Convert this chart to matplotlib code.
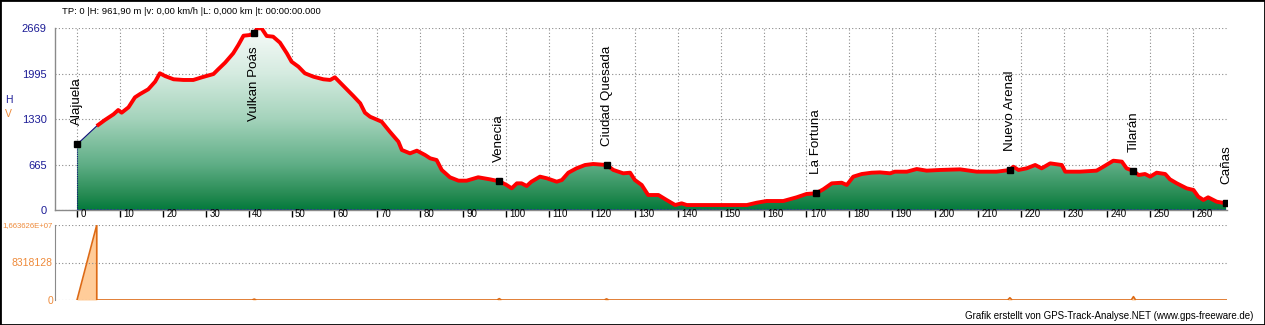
import numpy as np
import matplotlib
matplotlib.use("Agg")
import matplotlib.pyplot as plt
import matplotlib.transforms as mtransforms
from matplotlib.colors import LinearSegmentedColormap
from matplotlib.patches import Polygon, Rectangle

plt.rcParams['font.family'] = ['Liberation Sans', 'DejaVu Sans']

# elevation profile (km, m)
dist_km = [0, 4.6, 6.5, 8.5, 9.6, 10.4, 12.0, 13.5, 14.7, 16.6,
           18.2, 19.3, 20.5, 22.5, 24.8, 27.1, 29.1, 31.8, 32.9, 34.5,
           36.4, 37.6, 38.8, 40.3, 41.3, 42.0, 43.0, 44.2, 45.7, 47.3,
           48.9, 50.0, 51.6, 53.1, 55.1, 57.4, 59.0, 60.1, 62.1, 64.4,
           66.0, 67.1, 68.3, 71.0, 72.9, 74.9, 75.7, 77.6, 79.2, 81.1,
           82.3, 83.8, 85.0, 86.9, 88.9, 90.8, 93.5, 96.2, 98.4, 100.1,
           101.3, 102.5, 103.6, 104.8, 105.9, 107.9, 109.5, 111.8, 113.0, 114.5,
           116.4, 118.4, 120.3, 123.4, 125.0, 127.3, 128.9, 130.0, 131.6, 133.1,
           135.5, 137.4, 139.4, 140.9, 142.1, 149.1, 156.1, 158.4, 160.7, 164.6,
           167.7, 170.0, 172.2, 173.9, 175.9, 178.2, 179.4, 180.9, 182.9, 185.2,
           187.1, 189.5, 190.6, 193.4, 195.7, 198.0, 201.1, 205.8, 209.7, 214.3,
           217.4, 218.2, 219.4, 221.3, 223.3, 224.8, 226.8, 229.5, 230.3, 233.7,
           237.6, 239.2, 241.5, 243.5, 244.6, 246.2, 247.4, 248.9, 250.1, 251.6,
           253.6, 254.7, 256.3, 258.6, 260.2, 261.3, 262.5, 263.6, 265.6, 267.8]
elev_m = [962, 1232, 1320, 1403, 1466, 1427, 1506, 1652, 1701, 1770,
          1882, 2005, 1965, 1917, 1907, 1907, 1946, 1994, 2063, 2160,
          2298, 2420, 2556, 2566, 2591, 2665, 2665, 2552, 2542, 2454,
          2298, 2175, 2102, 2005, 1955, 1917, 1907, 1946, 1818, 1672,
          1565, 1427, 1368, 1295, 1148, 1002, 880, 831, 870, 807,
          758, 733, 587, 480, 430, 430, 480, 450, 421, 367,
          318, 391, 391, 352, 415, 489, 465, 415, 440, 547,
          611, 660, 675, 660, 587, 538, 547, 440, 367, 220,
          220, 147, 73, 98, 73, 73, 73, 107, 132, 132,
          186, 235, 245, 303, 391, 400, 367, 489, 528, 547,
          552, 538, 562, 562, 601, 577, 587, 596, 562, 562,
          587, 635, 587, 611, 660, 611, 684, 660, 562, 562,
          577, 635, 723, 709, 611, 572, 513, 528, 489, 547,
          528, 450, 391, 318, 293, 196, 147, 186, 122, 98]

# waypoints
wp_names = ["Alajuela", "Vulkan Poás", "Venecia", "Ciudad Quesada",
            "La Fortuna", "Nuevo Arenal", "Tilarán", "Cañas"]
wp_km = [0, 41.3, 98.4, 123.4, 172.2, 217.4, 246.2, 267.8]
wp_elev = [962, 2591, 421, 660, 245, 587, 572, 98]

# second series (V)
v_km = [0, 4.6, 4.6, 40.8, 41.3, 41.8, 97.9, 98.4, 98.9, 122.9, 123.4, 123.9,
        216.9, 217.4, 217.9, 245.7, 246.2, 246.7, 267.8]
v_val = [0, 16636256, 0, 0, 200000, 0, 0, 300000, 0, 0, 250000, 0,
         0, 500000, 0, 0, 750000, 0, 0]

h_ticks = [0, 665, 1330, 1995, 2669]
h_ticklabels = ["0", "665", "1330", "1995", "2669"]
v_ticks = [0, 8318128, 16636256]
v_ticklabels = ["0", "8318128", "1,663626E+07"]
km_ticks = list(range(0, 261, 10))

W, H = 1265, 325
fig = plt.figure(figsize=(W / 100, H / 100), dpi=100)
fig.patch.set_facecolor('white')

blue_txt = '#1c1c96'
orange_txt = '#ee8a3a'
grid_kw = dict(color='#8a8a8a', linestyle=(0, (1, 2)), linewidth=0.8)

# ---- upper: elevation ----
ax1 = fig.add_axes([55 / W, 1 - 210 / H, (1227 - 55) / W, (210 - 28) / H])
ax1.set_axisbelow(True)

cmap = LinearSegmentedColormap.from_list('elev', [
    (0.0, '#037a3c'), (0.08, '#258a52'), (0.25, '#5fae86'),
    (0.5, '#a4d3bb'), (0.75, '#d5ebe0'), (1.0, '#f7fbf9')])
grad = np.linspace(0, 1, 256).reshape(-1, 1)
im = ax1.imshow(grad, extent=[dist_km[0], dist_km[-1], 0, h_ticks[-1]],
                origin='lower', aspect='auto', cmap=cmap, zorder=1)
verts = [(dist_km[0], 0)] + list(zip(dist_km, elev_m)) + [(dist_km[-1], 0)]
clip = Polygon(verts, closed=True, facecolor='none', edgecolor='none')
ax1.add_patch(clip)
im.set_clip_path(clip)

# outline of the profile
ax1.plot([dist_km[0], dist_km[0]], [0, elev_m[0]], color='#10107a', lw=0.8,
         linestyle=(0, (1, 1)), zorder=2)
ax1.plot([dist_km[0], dist_km[-1]], [0, 0], color='#1a1aa0', lw=1.2,
         linestyle=(0, (1, 1)), zorder=2)
ax1.plot(dist_km, elev_m, color='#10107a', lw=0.8, zorder=2)
ax1.plot(dist_km[1:], elev_m[1:], color='#ff0000', lw=2.8, zorder=3,
         solid_capstyle='butt')
ax1.plot(wp_km, wp_elev, linestyle='none', marker='s', markersize=4.5,
         color='black', zorder=4)

for name, x, y in zip(wp_names, wp_km, wp_elev):
    if y > 2000:
        ax1.annotate(name, xy=(x, h_ticks[-1]), xytext=(0, -13),
                     textcoords='offset points', rotation=90, ha='center',
                     va='top', fontsize=9.6, zorder=5)
    else:
        ax1.annotate(name, xy=(x, y), xytext=(0, 14),
                     textcoords='offset points', rotation=90, ha='center',
                     va='bottom', fontsize=9.6, zorder=5)

ax1.set_xlim(-5.13, 268.0)
ax1.set_ylim(0, h_ticks[-1])
ax1.set_yticks(h_ticks)
ax1.set_yticklabels(h_ticklabels)
ax1.set_xticks(km_ticks)
ax1.set_xticklabels([])
ax1.tick_params(axis='y', length=0, pad=6, labelsize=8, labelcolor=blue_txt)
ax1.tick_params(axis='x', direction='out', length=5, width=1, color='black')
ax1.grid(True, **grid_kw)
for s in ['top', 'right']:
    ax1.spines[s].set_visible(False)
for s in ['left', 'bottom']:
    ax1.spines[s].set_color('#8a8a8a')
    ax1.spines[s].set_linewidth(1)

tick_tr = mtransforms.blended_transform_factory(ax1.transData, ax1.transAxes) + \
    mtransforms.ScaledTranslation(2.5 / 72, 0.5 / 72, fig.dpi_scale_trans)
for k in km_ticks:
    ax1.text(k, 0, str(k), transform=tick_tr, ha='left', va='top',
             fontsize=7, clip_on=False)

# ---- lower: V ----
ax2 = fig.add_axes([55 / W, 1 - 300 / H, (1227 - 55) / W, 75 / H])
ax2.fill_between(v_km, v_val, 0, color='#ffcc99', lw=0, zorder=1)
ax2.plot(v_km, v_val, color='#dd6a15', lw=1.2, zorder=2)
ax2.set_xlim(ax1.get_xlim())
ax2.set_ylim(0, v_ticks[-1])
ax2.set_yticks(v_ticks)
ax2.set_yticklabels(v_ticklabels)
ax2.set_xticks([])
ax2.tick_params(axis='y', length=0, pad=1.5, labelsize=7.5, labelcolor=orange_txt)
# longest label is shrunk so it stays inside the figure
ax2.get_yticklabels()[-1].set_fontsize(5.6)
ax2.grid(True, axis='y', **grid_kw)
for s in ['top', 'right', 'bottom']:
    ax2.spines[s].set_visible(False)
ax2.spines['left'].set_color('#8a8a8a')

# ---- texts ----
fig.text(62 / W, 1 - 12 / H,
         "TP: 0 |H: 961,90 m |v: 0,00 km/h |L: 0,000 km |t: 00:00:00.000",
         fontsize=6.8, va='center', ha='left')
fig.text(5 / W, 1 - 100 / H, "H", color=blue_txt, fontsize=7.5, va='center')
fig.text(5 / W, 1 - 114 / H, "V", color=orange_txt, fontsize=7.5, va='center')
fig.text(1253 / W, 1 - 316 / H,
         "Grafik erstellt von GPS-Track-Analyse.NET (www.gps-freeware.de)",
         fontsize=7, ha='right', va='center')

fig.patches.append(Rectangle((0, 0), 1, 1, transform=fig.transFigure,
                             fill=False, edgecolor='black', lw=2))

fig.savefig("out.png", dpi=100)
